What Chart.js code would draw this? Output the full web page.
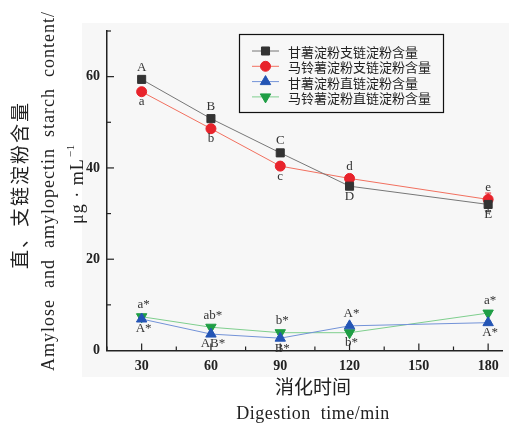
<!DOCTYPE html>
<html>
<head>
<meta charset="utf-8">
<script src="https://cdn.jsdelivr.net/npm/chart.js@4/dist/chart.umd.min.js"></script>
<style>
  body { margin: 0; background: #fff; }
  #wrap { width: 509px; height: 426px; }
</style>
</head>
<body>
<div id="wrap"><canvas id="chart" width="509" height="426"></canvas></div>
<script>
const times = [30, 60, 90, 120, 180];
const xTicks = [30, 60, 90, 120, 150, 180];
const yTicks = [0, 20, 40, 60];

const sweetAmylopectin = [59.4, 50.8, 43.3, 36.0, 32.0];
const potatoAmylopectin = [56.7, 48.6, 40.4, 37.7, 33.1];
const sweetAmylose = [6.9, 3.6, 2.7, 5.4, 6.1];
const potatoAmylose = [7.4, 5.1, 3.9, 3.9, 8.2];

const sweetAmylopectinErr = [0.4, 0.4, 0.4, 0.5, 1.6];
const potatoAmylopectinErr = [0.4, 0.4, 0.4, 0.4, 1.4];
const sweetAmyloseErr = [0.3, 0.3, 0.3, 0.3, 0.3];
const potatoAmyloseErr = [0.3, 0.3, 0.3, 0.3, 0.3];

const seriesNames = ['甘薯淀粉支链淀粉含量', '马铃薯淀粉支链淀粉含量', '甘薯淀粉直链淀粉含量', '马铃薯淀粉直链淀粉含量'];

const sweetAmylopectinTags = ['A', 'B', 'C', 'D', 'E'];
const potatoAmylopectinTags = ['a', 'b', 'c', 'd', 'e'];
const sweetAmyloseTags = ['A*', 'AB*', 'B*', 'A*', 'A*'];
const potatoAmyloseTags = ['a*', 'ab*', 'b*', 'b*', 'a*'];

const sweetAmylopectinTagSide = ['up', 'up', 'up', 'down', 'down'];
const potatoAmylopectinTagSide = ['down', 'down', 'down', 'up', 'up'];
const sweetAmyloseTagSide = ['down', 'down', 'down', 'up', 'down'];
const potatoAmyloseTagSide = ['up', 'up', 'up', 'down', 'up'];

function pts(values) {
  return times.map((t, i) => ({ x: t, y: values[i] }));
}

function series(label, values, err, tags, sides, color, lineColor, style, radius, rotation) {
  return {
    label: label,
    data: pts(values),
    err: err,
    tags: tags,
    sides: sides,
    borderColor: lineColor,
    backgroundColor: color,
    pointBackgroundColor: color,
    pointBorderColor: color,
    pointStyle: style,
    pointRadius: radius,
    pointRotation: rotation,
    borderWidth: 1,
    tension: 0
  };
}

const serif = "'Liberation Serif', 'DejaVu Serif', serif";
const cjk = "'Noto Sans CJK SC', sans-serif";

// grey panel behind the plot, like the scanned figure
const panel = {
  id: 'panel',
  beforeDraw(chart) {
    const ctx = chart.ctx;
    ctx.save();
    ctx.fillStyle = '#fff';
    ctx.fillRect(0, 0, chart.width, chart.height);
    ctx.fillStyle = '#f7f7f7';
    ctx.fillRect(82, 23, 427, 354);
    ctx.restore();
  }
};

// error bars + letter marks + ticks + titles + legend
const extras = {
  id: 'extras',
  beforeDatasetsDraw(chart) {
    const ctx = chart.ctx;
    const xs = chart.scales.x, ys = chart.scales.y;
    ctx.save();
    chart.data.datasets.forEach(ds => {
      ctx.strokeStyle = ds.backgroundColor;
      ctx.lineWidth = 1;
      ds.data.forEach((p, i) => {
        const e = ds.err[i];
        const px = xs.getPixelForValue(p.x);
        const top = ys.getPixelForValue(p.y + e);
        const bot = ys.getPixelForValue(p.y - e);
        ctx.beginPath();
        ctx.moveTo(px, top); ctx.lineTo(px, bot);
        ctx.moveTo(px - 3, top); ctx.lineTo(px + 3, top);
        ctx.moveTo(px - 3, bot); ctx.lineTo(px + 3, bot);
        ctx.stroke();
      });
    });
    ctx.restore();
  },
  afterDraw(chart) {
    const ctx = chart.ctx;
    const xs = chart.scales.x, ys = chart.scales.y;
    const area = chart.chartArea;
    ctx.save();

    // inward ticks
    ctx.strokeStyle = '#222';
    ctx.lineWidth = 1.2;
    for (let v = 15; v <= 180; v += 15) {
      const px = xs.getPixelForValue(v);
      const len = v % 30 === 0 ? 7 : 4;
      ctx.beginPath();
      ctx.moveTo(px, area.bottom); ctx.lineTo(px, area.bottom - len);
      ctx.stroke();
    }
    for (let v = 10; v <= 70; v += 10) {
      const py = ys.getPixelForValue(v);
      const len = v % 20 === 0 ? 7 : 4;
      ctx.beginPath();
      ctx.moveTo(area.left, py); ctx.lineTo(area.left + len, py);
      ctx.stroke();
    }

    // letter marks
    ctx.fillStyle = '#333';
    ctx.font = '13px ' + serif;
    ctx.textAlign = 'center';
    ctx.textBaseline = 'middle';
    chart.data.datasets.forEach(ds => {
      ds.data.forEach((p, i) => {
        const px = xs.getPixelForValue(p.x);
        const py = ys.getPixelForValue(p.y);
        const dy = ds.sides[i] === 'up' ? -12 : 10;
        const dx = ds.tags[i].indexOf('*') >= 0 ? 2 : 0;
        ctx.fillText(ds.tags[i], px + dx, py + dy);
      });
    });

    // x title
    ctx.fillStyle = '#222';
    ctx.font = '19px ' + cjk;
    ctx.fillText('消化时间', 313, 387);
    ctx.font = '18px ' + serif;
    ctx.letterSpacing = '0.5px';
    ctx.fillText('Digestion  time/min', 313, 414);

    // y title, three rotated lines
    const midY = 189;
    ctx.save();
    ctx.translate(20, midY - 4);
    ctx.rotate(-Math.PI / 2);
    ctx.font = '19px ' + cjk;
    ctx.letterSpacing = '2px';
    ctx.fillText('直、支链淀粉含量', 0, 0);
    ctx.restore();

    ctx.save();
    ctx.translate(49, midY + 2);
    ctx.rotate(-Math.PI / 2);
    ctx.font = '18px ' + serif;
    ctx.letterSpacing = '1px';
    ctx.fillText('Amylose  and  amylopectin  starch  content/', 0, 0);
    ctx.restore();

    ctx.save();
    ctx.translate(78, 224);
    ctx.rotate(-Math.PI / 2);
    ctx.textAlign = 'left';
    ctx.font = '18px ' + serif;
    ctx.letterSpacing = '1px';
    const unit = 'μg · mL';
    ctx.fillText(unit, 0, 0);
    const w = ctx.measureText(unit).width;
    ctx.font = '11px ' + serif;
    ctx.fillText('−1', w + 1, -7);
    ctx.restore();

    // legend box
    ctx.letterSpacing = '0px';
    ctx.strokeStyle = '#111';
    ctx.lineWidth = 1.2;
    ctx.strokeRect(239.5, 34.5, 204, 78);
    ctx.font = '13px ' + cjk;
    ctx.textAlign = 'left';
    chart.data.datasets.forEach((ds, i) => {
      const y = 51 + i * 15.3;
      ctx.strokeStyle = ds.borderColor;
      ctx.lineWidth = 1;
      ctx.beginPath();
      ctx.moveTo(252, y); ctx.lineTo(279, y);
      ctx.stroke();
      ctx.fillStyle = ds.backgroundColor;
      ctx.strokeStyle = ds.backgroundColor;
      Chart.helpers.drawPoint(ctx, {
        pointStyle: ds.pointStyle,
        rotation: ds.pointRotation,
        radius: ds.pointRadius,
        borderWidth: 1
      }, 265.5, y);
      ctx.fillStyle = '#222';
      ctx.fillText(ds.label, 288, y + 1);
    });
    ctx.restore();
  }
};

new Chart(document.getElementById('chart').getContext('2d'), {
  type: 'line',
  data: {
    datasets: [
      series(seriesNames[0], sweetAmylopectin, sweetAmylopectinErr, sweetAmylopectinTags, sweetAmylopectinTagSide, '#333333', '#777777', 'rect', 5.7, 0),
      series(seriesNames[1], potatoAmylopectin, potatoAmylopectinErr, potatoAmylopectinTags, potatoAmylopectinTagSide, '#e8232b', '#f2705f', 'circle', 5, 0),
      series(seriesNames[2], sweetAmylose, sweetAmyloseErr, sweetAmyloseTags, sweetAmyloseTagSide, '#2455b5', '#7393d8', 'triangle', 6, 0),
      series(seriesNames[3], potatoAmylose, potatoAmyloseErr, potatoAmyloseTags, potatoAmyloseTagSide, '#1f9e45', '#7fcf8e', 'triangle', 6, 180)
    ]
  },
  options: {
    responsive: false,
    animation: false,
    layout: { padding: { top: 31, right: 4, left: 0, bottom: 0 } },
    plugins: {
      legend: { display: false },
      tooltip: { enabled: false }
    },
    scales: {
      x: {
        type: 'linear',
        min: 15,
        max: 186,
        afterBuildTicks: s => { s.ticks = xTicks.map(v => ({ value: v })); },
        afterFit: s => { s.height = 75.5; },
        grid: { display: false, drawTicks: false },
        border: { display: true, color: '#222', width: 1.5 },
        ticks: {
          padding: 7,
          color: '#222',
          font: { family: serif, size: 14, weight: 'bold' }
        }
      },
      y: {
        min: 0,
        max: 70,
        afterBuildTicks: s => { s.ticks = yTicks.map(v => ({ value: v })); },
        afterFit: s => { s.width = 107; },
        grid: { display: false, drawTicks: false },
        border: { display: true, color: '#222', width: 1.5 },
        ticks: {
          padding: 7,
          color: '#222',
          font: { family: serif, size: 14, weight: 'bold' }
        }
      }
    }
  },
  plugins: [panel, extras]
});
</script>
</body>
</html>
